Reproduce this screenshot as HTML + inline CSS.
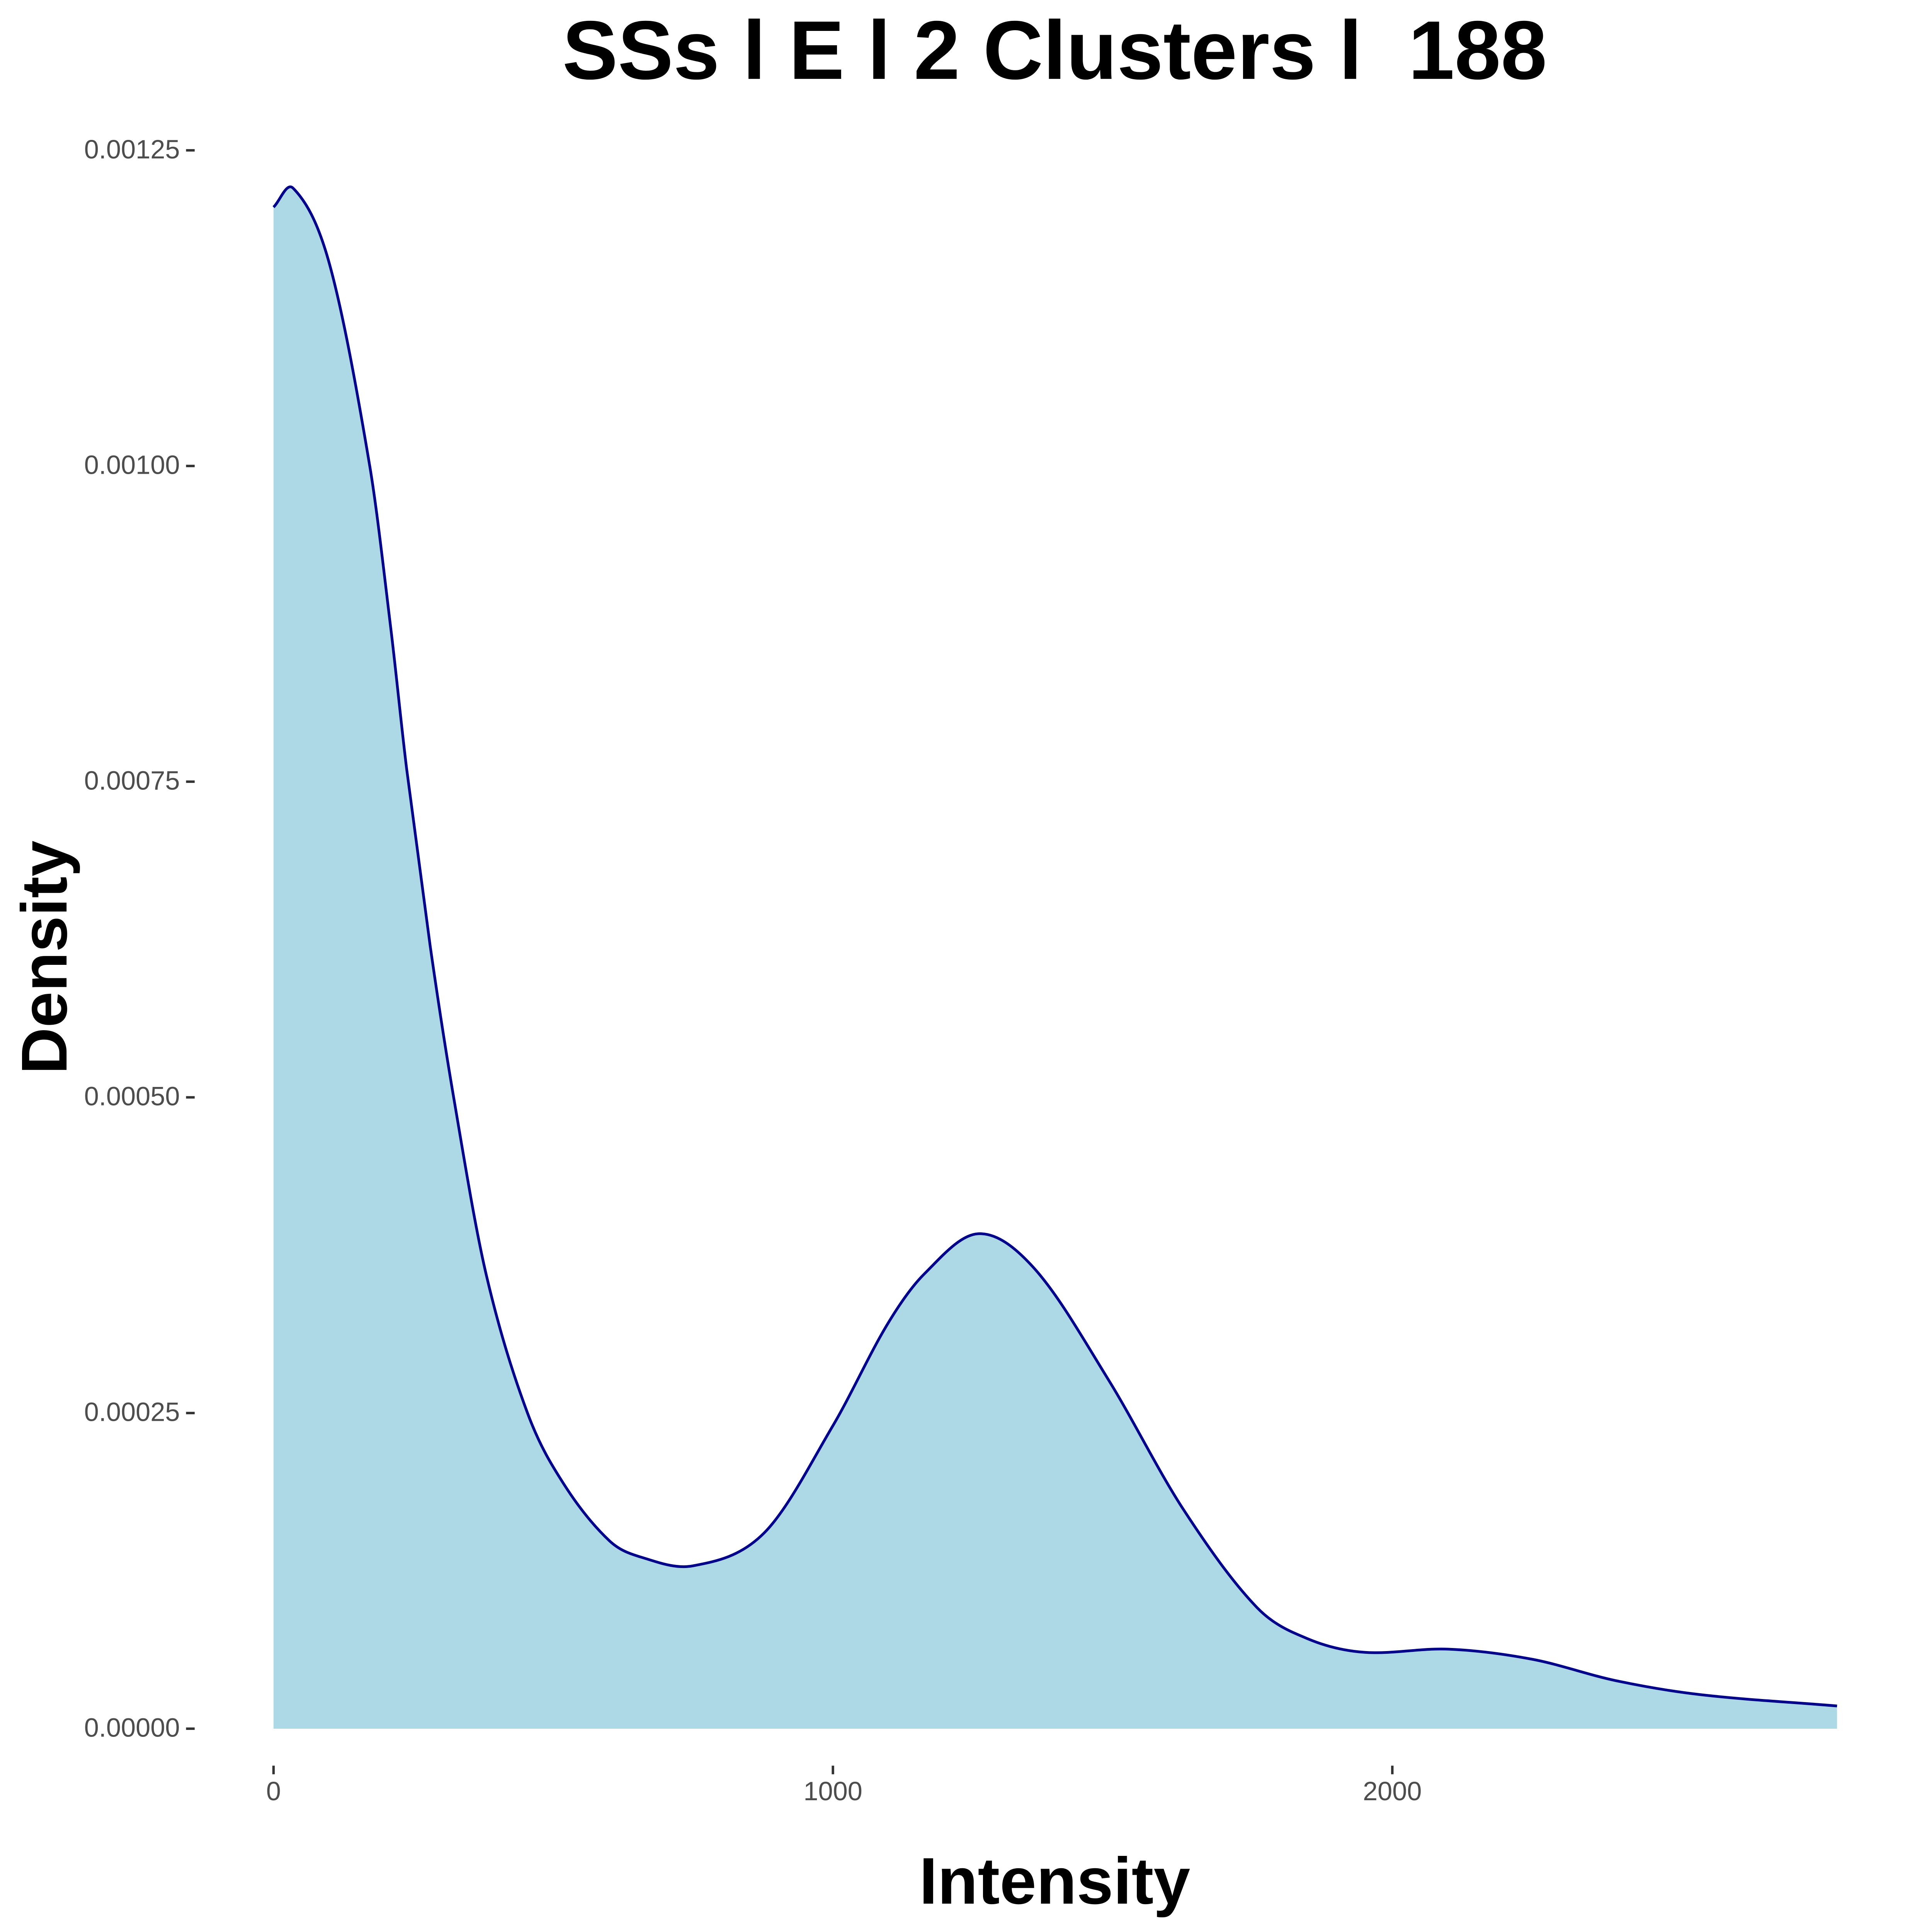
<!DOCTYPE html>
<html><head><meta charset="utf-8"><style>html,body{margin:0;padding:0;background:#fff;overflow:hidden;width:100%;height:100%}svg{display:block;position:fixed;left:0;top:0;width:100vw;height:100vh}</style></head>
<body>
<svg viewBox="0 0 1568 1568" preserveAspectRatio="none" xmlns="http://www.w3.org/2000/svg" font-family="Liberation Sans, sans-serif">
<rect width="1568" height="1568" fill="#fff"/>
<text x="856" y="64" text-anchor="middle" font-size="67.5" font-weight="bold" fill="#000" xml:space="preserve">SSs l E l 2 Clusters l  188</text>
<text x="856" y="1545" text-anchor="middle" font-size="53.5" font-weight="bold">Intensity</text>
<text transform="translate(54,777) rotate(-90)" text-anchor="middle" font-size="52.5" font-weight="bold">Density</text>
<g id="plot"></g>
</svg>
<script>
const xs = [0,35,100,172,210,238,280,322,380,454,520,600,656,750,877,1000,1097,1163,1260,1361,1493,1626,1758,1850,1950,2100,2250,2400,2550,2795];
const ys = [0.001205,0.00122,0.00116,0.00100,0.00087,0.00076,0.00062,0.00050,0.00036,0.00025,0.000193,0.000149,0.000136,0.000129,0.000155,0.000240,0.00032,0.00036,0.000392,0.000364,0.000276,0.000174,0.000096,0.000071,0.0000605,0.000063,0.000055,0.000038,0.000027,0.000018];
const yTicks = [0,0.00025,0.0005,0.00075,0.001,0.00125];
const yTickLabels = ["0.00000","0.00025","0.00050","0.00075","0.00100","0.00125"];
const xTicks = [0,1000,2000];
const xTickLabels = ["0","1000","2000"];
const sx = v => 222 + v*0.454;
const sy = v => 1403 - v/0.00125*1281;
const NS = "http://www.w3.org/2000/svg";
const g = document.getElementById('plot');
const n = xs.length;
const m = xs.map((x,i)=>{
  const a=Math.max(0,i-1), b=Math.min(n-1,i+1);
  return (ys[b]-ys[a])/(xs[b]-xs[a]);
});
let d = `M${sx(xs[0])},${sy(ys[0])}`;
for (let i=0;i<n-1;i++){
  const h=xs[i+1]-xs[i];
  const c1x=xs[i]+h/3, c1y=ys[i]+m[i]*h/3;
  const c2x=xs[i+1]-h/3, c2y=ys[i+1]-m[i+1]*h/3;
  d+=` C${sx(c1x)},${sy(c1y)} ${sx(c2x)},${sy(c2y)} ${sx(xs[i+1])},${sy(ys[i+1])}`;
}
const area = document.createElementNS(NS,'path');
area.setAttribute('d', d+` L${sx(xs[n-1])},${sy(0)} L${sx(xs[0])},${sy(0)} Z`);
area.setAttribute('fill','#add8e6');


g.appendChild(area);
const line = document.createElementNS(NS,'path');
line.setAttribute('d', d);
line.setAttribute('fill','none');
line.setAttribute('stroke','#00008b');
line.setAttribute('stroke-width','2.2');


g.appendChild(line);
yTicks.forEach((t,i)=>{
  const l=document.createElementNS(NS,'line');
  l.setAttribute('x1',151);l.setAttribute('x2',158);l.setAttribute('y1',sy(t));l.setAttribute('y2',sy(t));
  l.setAttribute('stroke','#333');l.setAttribute('stroke-width','2');
  
  
  g.appendChild(l);
  const tx=document.createElementNS(NS,'text');
  tx.setAttribute('x',146);tx.setAttribute('y',sy(t)+6.5);tx.setAttribute('text-anchor','end');
  tx.setAttribute('font-size','21.5');tx.setAttribute('fill','#4d4d4d');
  tx.textContent=yTickLabels[i];
  
  
  g.appendChild(tx);
});
xTicks.forEach((t,i)=>{
  const l=document.createElementNS(NS,'line');
  l.setAttribute('x1',sx(t));l.setAttribute('x2',sx(t));l.setAttribute('y1',1433);l.setAttribute('y2',1440);
  l.setAttribute('stroke','#333');l.setAttribute('stroke-width','2');
  
  
  g.appendChild(l);
  const tx=document.createElementNS(NS,'text');
  tx.setAttribute('x',sx(t));tx.setAttribute('y',1461);tx.setAttribute('text-anchor','middle');
  tx.setAttribute('font-size','21.5');tx.setAttribute('fill','#4d4d4d');
  tx.textContent=xTickLabels[i];
  
  
  g.appendChild(tx);
});
</script>
</body></html>
